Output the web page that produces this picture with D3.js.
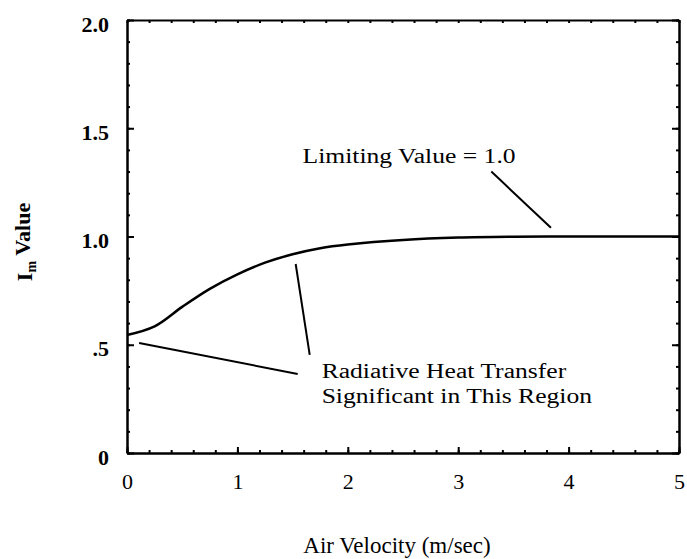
<!DOCTYPE html>
<html>
<head>
<meta charset="utf-8">
<script src="https://cdn.jsdelivr.net/npm/d3@7"></script>
<style>
  body { margin: 0; background: #fff; }
  svg { display: block; }
  svg text { font-family: "Liberation Serif", "Times New Roman", serif; fill: #000; }
  .axis path, .axis line { stroke: #000; stroke-width: 2; }
</style>
</head>
<body>
<div id="chart"></div>
<script>
// I_m value vs air velocity
var velocity = [0, 0.25, 0.5, 0.75, 1.0, 1.25, 1.5, 1.75, 2.0, 2.5, 3.0, 3.5, 4.0, 4.5, 5.0];
var imValue  = [0.545, 0.585, 0.675, 0.758, 0.825, 0.879, 0.918, 0.946, 0.963, 0.984, 0.995, 0.999, 1.0, 1.0, 1.0];

var xTicks = [0, 1, 2, 3, 4, 5];
var yTicks = [0, 0.5, 1.0, 1.5, 2.0];
var yTickLabels = ["0", ".5", "1.0", "1.5", "2.0"];

const width = 687;
const height = 559;

var svg = d3.select("#chart").append("svg")
  .attr("width", width)
  .attr("height", height);

var x = d3.scaleLinear().domain([0, 5]).range([127, 679]);
var y = d3.scaleLinear().domain([0, 2]).range([453, 20]);

var xMinor = d3.range(0, 5.001, 0.2);
var yMinor = d3.range(0, 2.001, 0.1);

// minor ticks, all four sides, pointing inward
svg.append("g").attr("class", "axis")
  .attr("transform", "translate(0," + y(0) + ")")
  .call(d3.axisBottom(x).tickValues(xMinor).tickSize(-3).tickSizeOuter(0).tickFormat(""));
svg.append("g").attr("class", "axis")
  .attr("transform", "translate(0," + y(2) + ")")
  .call(d3.axisTop(x).tickValues(xMinor).tickSize(-3).tickSizeOuter(0).tickFormat(""));
svg.append("g").attr("class", "axis")
  .attr("transform", "translate(" + x(0) + ",0)")
  .call(d3.axisLeft(y).tickValues(yMinor).tickSize(-3).tickSizeOuter(0).tickFormat(""));
svg.append("g").attr("class", "axis")
  .attr("transform", "translate(" + x(5) + ",0)")
  .call(d3.axisRight(y).tickValues(yMinor).tickSize(-3).tickSizeOuter(0).tickFormat(""));

// major ticks with labels
var xAxis = svg.append("g").attr("class", "axis")
  .attr("transform", "translate(0," + y(0) + ")")
  .call(d3.axisBottom(x).tickValues(xTicks).tickSize(-6).tickSizeOuter(0).tickPadding(20)
    .tickFormat(d3.format("d")));
xAxis.selectAll("text").style("font-size", "22px");

var yAxis = svg.append("g").attr("class", "axis")
  .attr("transform", "translate(" + x(0) + ",0)")
  .call(d3.axisLeft(y).tickValues(yTicks).tickSize(-7).tickSizeOuter(0).tickPadding(18)
    .tickFormat(function(d, i) { return yTickLabels[i]; }));
yAxis.selectAll("text")
  .style("font-size", "22px")
  .style("font-weight", "bold")
  .attr("dy", "0.5em");

svg.append("g").attr("class", "axis")
  .attr("transform", "translate(" + x(5) + ",0)")
  .call(d3.axisRight(y).tickValues(yTicks).tickSize(-7).tickSizeOuter(0).tickFormat(""));

// curve
var pts = velocity.map(function(v, i) { return [v, imValue[i]]; });
var line = d3.line()
  .x(function(d) { return x(d[0]); })
  .y(function(d) { return y(d[1]); })
  .curve(d3.curveCatmullRom.alpha(0.5));

svg.append("path")
  .datum(pts)
  .attr("d", line)
  .style("fill", "none")
  .style("stroke", "#000")
  .style("stroke-width", 2.5);

// annotations (the scanned lettering is wide, so stretch it a bit)
function note(vx, vy, txt) {
  svg.append("g")
    .attr("transform", "translate(" + x(vx) + "," + y(vy) + ") scale(1.28,1)")
    .append("text")
    .style("font-size", "20px")
    .text(txt);
}
function leader(x1, y1, x2, y2) {
  svg.append("line")
    .attr("x1", x(x1)).attr("y1", y(y1))
    .attr("x2", x(x2)).attr("y2", y(y2))
    .style("stroke", "#000")
    .style("stroke-width", 2);
}

note(1.59, 1.34, "Limiting Value = 1.0");
leader(3.30, 1.30, 3.84, 1.04);

note(1.763, 0.346, "Radiative Heat Transfer");
note(1.763, 0.231, "Significant in This Region");
leader(0.11, 0.508, 1.546, 0.365);
leader(1.528, 0.873, 1.655, 0.453);

// axis titles
svg.append("text")
  .attr("x", 397)
  .attr("y", 553)
  .attr("text-anchor", "middle")
  .style("font-size", "23px")
  .text("Air Velocity (m/sec)");

var ylab = svg.append("text")
  .attr("transform", "translate(32,242) rotate(-90)")
  .attr("text-anchor", "middle")
  .style("font-size", "22px")
  .style("font-weight", "bold");
ylab.append("tspan").text("I");
ylab.append("tspan").attr("dy", "0.3em").style("font-size", "14px").text("m");
ylab.append("tspan").attr("dy", "-0.3em").text(" Value");
</script>
</body>
</html>
